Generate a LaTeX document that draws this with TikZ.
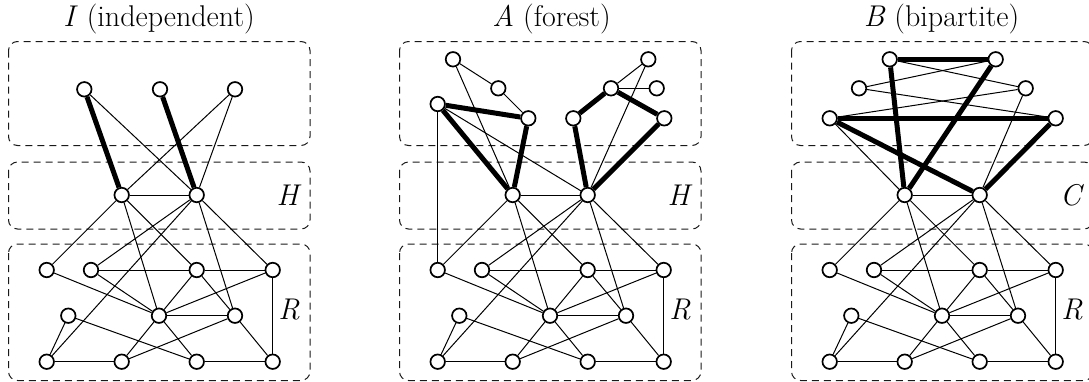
\documentclass[tikz,border=0pt]{standalone}
\usepackage{fontspec}
\newcommand\lowergraph[3]{% #1 prefix, #2 shift, #3 label of middle region
 \begin{scope}[xshift=#2pt]
  \draw[region] (8.5,41.5) rectangle (310,145.5);
  \draw[region] (8.5,162) rectangle (310,229);
  \draw[region] (8.5,244) rectangle (310,380.5);
  \node[lbl] (#1labH) at (289,195) {\textit{#3}};
  \node[lbl] (#1labR) at (289,310) {\textit{R}};
  \node[vtx] (#1h1) at (121.7,195) {};
  \node[vtx] (#1h2) at (196.7,195) {};
  \node[vtx] (#1r1) at (46.7,270) {};
  \node[vtx] (#1r2) at (91,270) {};
  \node[vtx] (#1r3) at (196.7,270) {};
  \node[vtx] (#1r4) at (272.7,270) {};
  \node[vtx] (#1m1) at (68.3,315.7) {};
  \node[vtx] (#1m2) at (159,315.7) {};
  \node[vtx] (#1m3) at (235,315.7) {};
  \node[vtx] (#1b1) at (46.7,361.7) {};
  \node[vtx] (#1b2) at (121.7,361.7) {};
  \node[vtx] (#1b3) at (196.7,361.7) {};
  \node[vtx] (#1b4) at (272.7,361.7) {};
 \end{scope}
 \draw[lite] (#1h1) -- (#1h2);
 \draw[lite] (#1h1) -- (#1r1);
 \draw[lite] (#1h1) -- (#1m2);
 \draw[lite] (#1h1) -- (#1r3);
 \draw[lite] (#1h2) -- (#1r2);
 \draw[lite] (#1h2) -- (#1b1);
 \draw[lite] (#1h2) -- (#1m3);
 \draw[lite] (#1h2) -- (#1r4);
 \draw[lite] (#1r2) -- (#1r3);
 \draw[lite] (#1r3) -- (#1r4);
 \draw[lite] (#1r1) -- (#1m2);
 \draw[lite] (#1r2) -- (#1m2);
 \draw[lite] (#1r3) -- (#1m2);
 \draw[lite] (#1r3) -- (#1m3);
 \draw[lite] (#1r4) -- (#1m2);
 \draw[lite] (#1r4) -- (#1b4);
 \draw[lite] (#1m2) -- (#1m3);
 \draw[lite] (#1m1) -- (#1b1);
 \draw[lite] (#1m1) -- (#1b3);
 \draw[lite] (#1m2) -- (#1b2);
 \draw[lite] (#1m2) -- (#1b3);
 \draw[lite] (#1m3) -- (#1b2);
 \draw[lite] (#1m3) -- (#1b4);
 \draw[lite] (#1b1) -- (#1b2);
 \draw[lite] (#1b3) -- (#1b4);
}
\begin{document}
\begin{tikzpicture}[x=1pt,y=-1pt,
  vtx/.style={circle,draw,line width=1.7pt,fill=white,minimum size=14.5pt,inner sep=0pt},
  lite/.style={line width=1pt},
  heavy/.style={line width=5pt},
  region/.style={draw=black!90,dash pattern=on 7pt off 5pt,line width=1pt,rounded corners=9pt},
  lbl/.style={font=\fontsize{30}{35}\selectfont,inner sep=0pt},
  ttl/.style={font=\fontsize{30}{35}\selectfont,inner sep=0pt,anchor=base},
]
\useasboundingbox (0,0) rectangle (1089,381);

% ---------- panel 1: I (independent) ----------
\node[ttl] (title1) at (159,26.5) {\textit{I} (independent)};
\lowergraph{p}{0}{H}
\node[vtx] (pt1) at (84.3,89.3) {};
\node[vtx] (pt2) at (160,89.3) {};
\node[vtx] (pt3) at (235,89.3) {};
\draw[heavy] (pt1) -- (ph1);
\draw[heavy] (pt2) -- (ph2);
\draw[lite] (pt1) -- (ph2);
\draw[lite] (pt3) -- (ph1);
\draw[lite] (pt3) -- (ph2);

% ---------- panel 2: A (forest) ----------
\node[ttl] (title2) at (551.5,26.5) {\textit{A} (forest)};
\lowergraph{q}{391}{H}
\begin{scope}[xshift=391pt]
 \node[vtx] (qa1) at (62,59.3) {};
 \node[vtx] (qa2) at (107.3,88.3) {};
 \node[vtx] (qa3) at (46.7,104) {};
 \node[vtx] (qa4) at (137.3,118.3) {};
 \node[vtx] (qa5) at (257.3,59.3) {};
 \node[vtx] (qa6) at (220,88.3) {};
 \node[vtx] (qa7) at (265.7,88.3) {};
 \node[vtx] (qa8) at (182.3,118.3) {};
 \node[vtx] (qa9) at (273.3,118.3) {};
\end{scope}
\draw[lite] (qa1) -- (qa2);
\draw[lite] (qa2) -- (qa4);
\draw[lite] (qa1) -- (qh1);
\draw[lite] (qa3) -- (qh2);
\draw[lite] (qa3) -- (qr1);
\draw[lite] (qa5) -- (qa6);
\draw[lite] (qa5) -- (qh2);
\draw[lite] (qa6) -- (qa7);
\draw[heavy] (qa3) -- (qa4);
\draw[heavy] (qa3) -- (qh1);
\draw[heavy] (qa4) -- (qh1);
\draw[heavy] (qa6) -- (qa8);
\draw[heavy] (qa6) -- (qa9);
\draw[heavy] (qa8) -- (qh2);
\draw[heavy] (qa9) -- (qh2);

% ---------- panel 3: B (bipartite) ----------
\node[ttl] (title3) at (941.5,26.5) {\textit{B} (bipartite)};
\lowergraph{s}{783}{C}
\begin{scope}[xshift=783pt]
 \node[vtx] (sb1) at (106.7,59.3) {};
 \node[vtx] (sb2) at (212.7,59.3) {};
 \node[vtx] (sb3) at (76,88.3) {};
 \node[vtx] (sb4) at (242.7,88.3) {};
 \node[vtx] (sb5) at (46.7,118.3) {};
 \node[vtx] (sb6) at (272.7,118.3) {};
\end{scope}
\draw[lite] (sb1) -- (sb4);
\draw[lite] (sb2) -- (sb3);
\draw[lite] (sb3) -- (sb6);
\draw[lite] (sb4) -- (sb5);
\draw[lite] (sb4) -- (sh2);
\draw[lite] (sb5) -- (sh1);
\draw[heavy] (sb1) -- (sb2);
\draw[heavy] (sb1) -- (sh1);
\draw[heavy] (sb2) -- (sh1);
\draw[heavy] (sb5) -- (sb6);
\draw[heavy] (sb5) -- (sh2);
\draw[heavy] (sb6) -- (sh2);
\end{tikzpicture}
\end{document}
